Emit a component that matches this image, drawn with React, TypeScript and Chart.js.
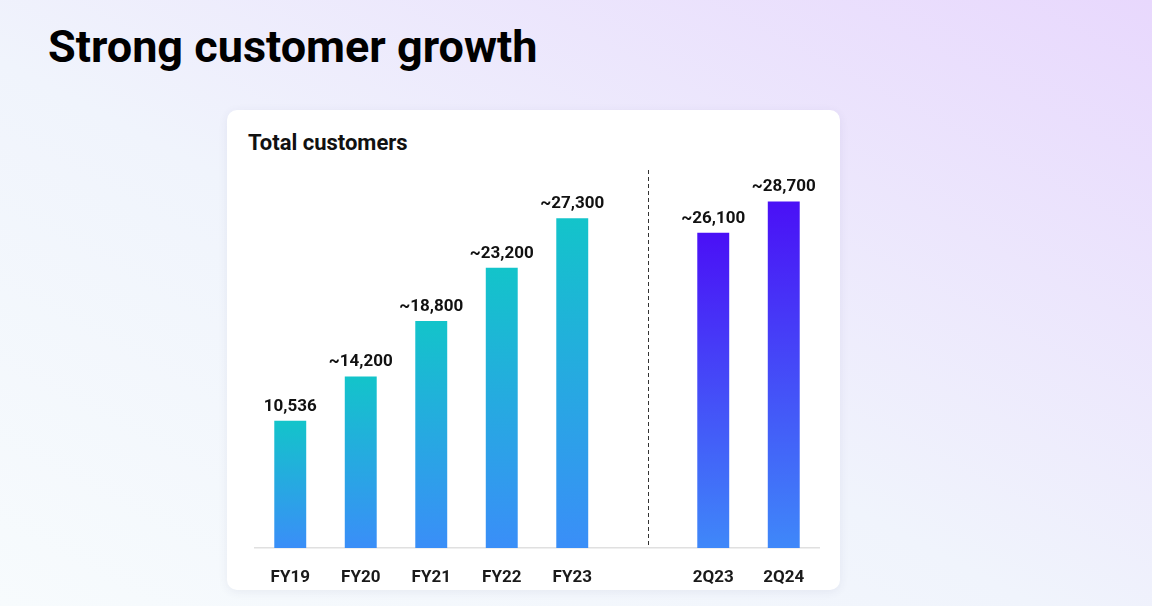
import React, { useEffect, useRef } from "react";
import { Chart, registerables } from "chart.js";

Chart.register(...registerables);

const categories = ["FY19", "FY20", "FY21", "FY22", "FY23", "", "2Q23", "2Q24"];
const customers: (number | null)[] = [10536, 14200, 18800, 23200, 27300, null, 26100, 28700];
const valueLabels = ["10,536", "~14,200", "~18,800", "~23,200", "~27,300", "", "~26,100", "~28,700"];
const barGroups = ["annual", "annual", "annual", "annual", "annual", "gap", "quarter", "quarter"];
const dividerIndex = 5;
const yMax = 31300;

const gradientStops: Record<string, [string, string]> = {
  annual: ["#13c4ca", "#3a8ef8"],
  quarter: ["#4a10f6", "#3f88f9"],
  gap: ["#ffffff", "#ffffff"],
};

const FONT = "Roboto, 'Noto Sans', sans-serif";

const valueLabelPlugin = {
  id: "valueLabels",
  afterDatasetsDraw(chart: any) {
    const ctx = chart.ctx;
    const meta = chart.getDatasetMeta(0);
    ctx.save();
    ctx.font = `bold 17px ${FONT}`;
    ctx.fillStyle = "#111111";
    ctx.textAlign = "center";
    ctx.textBaseline = "bottom";
    meta.data.forEach((bar: any, i: number) => {
      const txt = valueLabels[i];
      if (!txt || customers[i] == null) return;
      ctx.fillText(txt, bar.x, bar.y - 6);
    });
    ctx.restore();
  },
};

const dividerPlugin = {
  id: "divider",
  afterDatasetsDraw(chart: any) {
    const { ctx, chartArea, scales } = chart;
    const xs = scales.x;
    const w = xs.getPixelForValue(1) - xs.getPixelForValue(0);
    const x = Math.round(xs.getPixelForValue(dividerIndex) + w * 0.07) + 0.5;
    ctx.save();
    ctx.strokeStyle = "#333333";
    ctx.lineWidth = 1;
    ctx.setLineDash([4, 3]);
    ctx.beginPath();
    ctx.moveTo(x, chartArea.top);
    ctx.lineTo(x, chartArea.bottom);
    ctx.stroke();
    ctx.restore();
  },
};

function ChartCanvas() {
  const ref = useRef<HTMLCanvasElement | null>(null);
  useEffect(() => {
    if (!ref.current) return;
    const chart = new Chart(ref.current, {
      type: "bar",
      data: {
        labels: categories,
        datasets: [
          {
            data: customers,
            barPercentage: 0.453,
            categoryPercentage: 1,
            borderWidth: 0,
            backgroundColor: (c: any) => {
              const chartObj = c.chart;
              const group = barGroups[c.dataIndex] || "annual";
              const [top, bottom] = gradientStops[group];
              const ys = chartObj.scales && chartObj.scales.y;
              if (!ys || c.raw == null || !chartObj.chartArea) return top;
              const yTop = ys.getPixelForValue(c.raw);
              const yBot = ys.getPixelForValue(0);
              if (!isFinite(yTop) || !isFinite(yBot)) return top;
              const g = chartObj.ctx.createLinearGradient(0, yTop, 0, yBot);
              g.addColorStop(0, top);
              g.addColorStop(1, bottom);
              return g;
            },
          },
        ],
      },
      options: {
        responsive: false,
        animation: false,
        layout: { padding: { left: 28, right: 21, top: 60, bottom: 0 } },
        plugins: {
          legend: { display: false },
          tooltip: { enabled: false },
          title: { display: false },
        },
        scales: {
          x: {
            grid: { display: false },
            border: { display: true, color: "#e0e0e0", width: 1.5 },
            ticks: {
              color: "#1a1a1a",
              font: { family: FONT, size: 17, weight: "bold" },
              padding: 12,
            },
            afterFit: (s: any) => {
              s.height = 42;
            },
          },
          y: {
            display: false,
            min: 0,
            max: yMax,
          },
        },
      },
      plugins: [valueLabelPlugin, dividerPlugin],
    } as any);
    return () => chart.destroy();
  }, []);
  return <canvas ref={ref} width={613} height={480} style={{ width: 613, height: 480, display: "block" }} />;
}

export default function App() {
  return (
    <div
      style={{
        position: "fixed",
        left: 0,
        top: 0,
        width: 1152,
        height: 606,
        overflow: "hidden",
        background: "linear-gradient(to top right, #f7fbfd 0%, #f0f4fc 45%, #e8d8fd 100%)",
        fontFamily: FONT,
      }}
    >
      <div
        style={{
          position: "absolute",
          left: 48,
          top: 24,
          fontSize: 45,
          lineHeight: "45px",
          fontWeight: 700,
          color: "#000000",
          whiteSpace: "nowrap",
        }}
      >
        Strong customer growth
      </div>
      <div
        style={{
          position: "absolute",
          left: 227,
          top: 110,
          width: 613,
          height: 480,
          background: "#ffffff",
          borderRadius: 10,
          boxShadow: "0 2px 10px rgba(60, 70, 120, 0.08)",
        }}
      >
        <div
          style={{
            position: "absolute",
            left: 21,
            top: 22,
            fontSize: 22,
            lineHeight: "22px",
            fontWeight: 700,
            color: "#111111",
            whiteSpace: "nowrap",
          }}
        >
          Total customers
        </div>
        <div style={{ position: "absolute", left: 0, top: 0 }}>
          <ChartCanvas />
        </div>
      </div>
    </div>
  );
}
